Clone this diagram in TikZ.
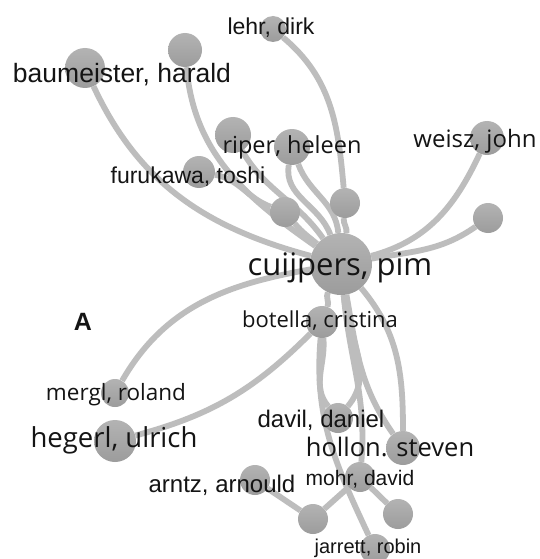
\documentclass[tikz,border=0pt]{standalone}
\usepackage{fontspec}
\setmainfont{Open Sans}
\newfontfamily\arialfont{Liberation Sans}
\usetikzlibrary{backgrounds}
\definecolor{linkgray}{HTML}{BDBDBD}
\definecolor{nodetop}{HTML}{B3B3B3}
\definecolor{nodebot}{HTML}{9C9C9C}
\definecolor{labelink}{HTML}{141414}
\tikzset{
  author/.style={circle, inner sep=0pt, top color=nodetop, bottom color=nodebot, minimum size=#1},
  author/.default=30pt,
  link/.style={draw=linkgray, line width=5.8pt},
  lbl/.style={anchor=base, text=labelink, inner sep=0pt, font=\fontsize{#1}{#1}\selectfont},
  albl/.style={lbl=#1, font=\arialfont\fontsize{#1}{#1}\selectfont},
}

\begin{document}
\begin{tikzpicture}[x=1pt,y=1pt]
  \useasboundingbox (0,0) rectangle (540,-559);
  % Authors (circles)
  \node[author=62pt] (cu) at (341,-264) {};
  \node[author=26pt] (lehr) at (273,-29) {};
  \node[author=34pt] (top) at (185,-50) {};
  \node[author=40pt] (baum) at (85,-68) {};
  \node[author=36pt] (n233) at (233,-135) {};
  \node[author=36pt] (riper) at (292,-147) {};
  \node[author=34pt] (weisz) at (487,-138) {};
  \node[author=32pt] (furu) at (199,-172) {};
  \node[author] (n285) at (285,-212) {};
  \node[author] (n345) at (345,-203) {};
  \node[author] (n488) at (488,-218) {};
  \node[author=32pt] (botella) at (322,-322) {};
  \node[author=28pt] (mergl) at (115,-393) {};
  \node[author=42pt] (hegerl) at (115,-441) {};
  \node[author] (davil) at (338,-418) {};
  \node[author=34pt] (hollon) at (403,-448) {};
  \node[author] (arntz) at (255,-480) {};
  \node[author] (mohr) at (360,-477) {};
  \node[author] (bl) at (313,-519) {};
  \node[author] (br) at (398,-514) {};
  \node[author] (jarrett) at (375,-549) {};

  % Links
  \begin{pgfonlayer}{background}
    \fill[white] (0,0) rectangle (540,-559);
    \draw[link] (lehr) to[out=-40,in=95] (n345);
    \draw[link] (n345) to[out=-95,in=80] (cu);
    \draw[link] (top) to[out=-85,in=145] (cu);
    \draw[link] (baum) to[out=-65,in=165] (cu);
    \draw[link] (n233) to[out=-60,in=125] (cu);
    \draw[link] (riper) to[out=-100,in=110] (cu);
    \draw[link] (riper) to[out=-70,in=95] (cu);
    \draw[link] (furu) to[out=-10,in=160] (n285);
    \draw[link] (n285) to[out=-50,in=140] (cu);
    \draw[link] (weisz) to[out=-115,in=15] (cu);
    \draw[link] (n488) to[out=-145,in=10] (cu);
    \draw[link] (cu) to[out=190,in=60] (mergl);
    \draw[link] (cu) to[out=-115,in=70] (botella);
    \draw[link] (botella) to[out=-135,in=15] (hegerl);
    \draw[link] (cu) to[out=-50,in=90] (hollon);
    \draw[link] (cu) to[out=-80,in=125] (hollon);
    \draw[link] (cu) to[out=-85,in=50] (davil);
    \draw[link] (botella) to[out=-85,in=130] (davil);
    \draw[link] (botella) to[out=-95,in=115] (jarrett);
    \draw[link] (cu) to[out=-85,in=85] (mohr);
    \draw[link] (mohr) -- (bl);
    \draw[link] (mohr) -- (br);
    \draw[link] (arntz) -- (bl);
  \end{pgfonlayer}

  % Labels
  \node[albl=23] (lehr-l) at (271,-35) {lehr, dirk};
  \node[albl=26.5] (baum-l) at (122,-83) {baumeister, harald};
  \node[lbl=23.5] (riper-l) at (292,-153) {riper, heleen};
  \node[lbl=24] (weisz-l) at (475,-147) {weisz, john};
  \node[albl=23] (furu-l) at (188,-183) {furukawa, toshi};
  \node[lbl=31] (cu-l) at (340,-275) {cuijpers, pim};
  \node[lbl=22] (botella-l) at (320,-327) {botella, cristina};
  \node[albl=25, font=\arialfont\bfseries\fontsize{25}{25}\selectfont] (panel) at (83,-330) {A};
  \node[lbl=22.5] (mergl-l) at (116,-400) {mergl, roland};
  \node[lbl=27.5] (hegerl-l) at (114,-447) {hegerl, ulrich};
  \node[albl=24] (davil-l) at (321,-427) {davil, daniel};
  \node[lbl=25.5] (hollon-l) at (390,-456) {hollon. steven};
  \node[albl=24] (arntz-l) at (222,-492) {arntz, arnould};
  \node[albl=21] (mohr-l) at (360,-485) {mohr, david};
  \node[albl=20] (jarrett-l) at (368,-553) {jarrett, robin};
\end{tikzpicture}
\end{document}
